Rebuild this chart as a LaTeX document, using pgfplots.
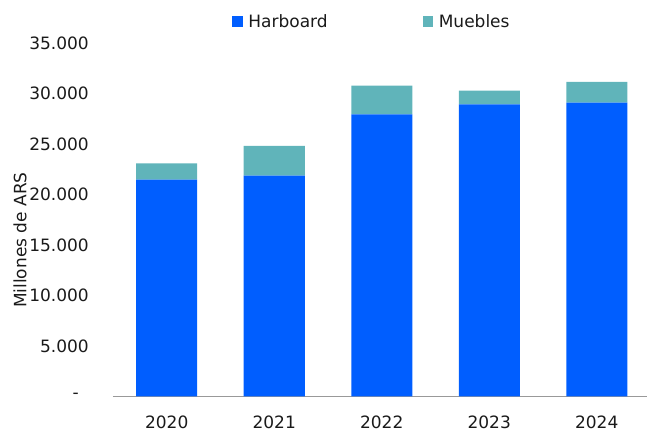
\documentclass[border=0pt]{standalone}
\usepackage{pgfplots}
\pgfplotsset{compat=1.18}
\usepackage{fontspec}
\setmainfont{DejaVu Sans}
\definecolor{cblue}{HTML}{005EFF}
\definecolor{cteal}{HTML}{60B4BA}
\definecolor{ctext}{HTML}{1A1A1A}
\begin{document}
\begin{tikzpicture}[font=\fontsize{17bp}{20bp}\selectfont, text=ctext]
\begin{axis}[
  scale only axis,
  width=537.5bp, height=353.3bp,
  xmin=-0.5, xmax=4.5,
  ymin=0, ymax=35000,
  ybar stacked,
  bar width=61bp,
  axis x line*=bottom,
  axis y line*=left,
  y axis line style={draw=none},
  x axis line style={draw=gray!80, line width=1bp, -},
  xtick=data,
  xticklabels={2020,2021,2022,2023,2024},
  scaled y ticks=false,
  ytick={0,5000,10000,15000,20000,25000,30000,35000},
  yticklabels={{-\hspace*{10bp}},5.000,10.000,15.000,20.000,25.000,30.000,35.000},
  major tick length=0pt,
  yticklabel style={anchor=east, inner sep=0pt, xshift=-24bp},
  xticklabel style={anchor=north, inner sep=0pt, yshift=-19bp},
  ylabel={Millones de ARS},
  every axis y label/.style={at={(axis description cs:-0.173,0.442)}, rotate=90, anchor=center, inner sep=0pt},
  legend columns=2,
  legend style={at={(axis description cs:0.222,1.0614)}, anchor=west, draw=none, fill=none, inner sep=0pt, outer sep=0pt,
    /tikz/every odd column/.append style={column sep=0bp},
    /tikz/every even column/.append style={column sep=95bp},
    nodes={inner sep=0pt, anchor=west},
    font=\fontsize{17bp}{20bp}\selectfont},
  legend image code/.code={\fill[#1] (0bp,-5.25bp) rectangle (10.5bp,5.25bp);},
  legend cell align=left,
]
\addplot[fill=cblue, draw=none] coordinates {(0,21460) (1,21850) (2,27940) (3,28930) (4,29090)};
\addplot[fill=cteal, draw=none] coordinates {(0,1620) (1,2950) (2,2830) (3,1350) (4,2050)};
\legend{\hspace*{5.6bp}Harboard,\hspace*{5.6bp}Muebles}
\end{axis}
\pgfresetboundingbox
\useasboundingbox (-113bp,-34.7bp) rectangle (534bp,396.3bp);
\end{tikzpicture}
\end{document}
